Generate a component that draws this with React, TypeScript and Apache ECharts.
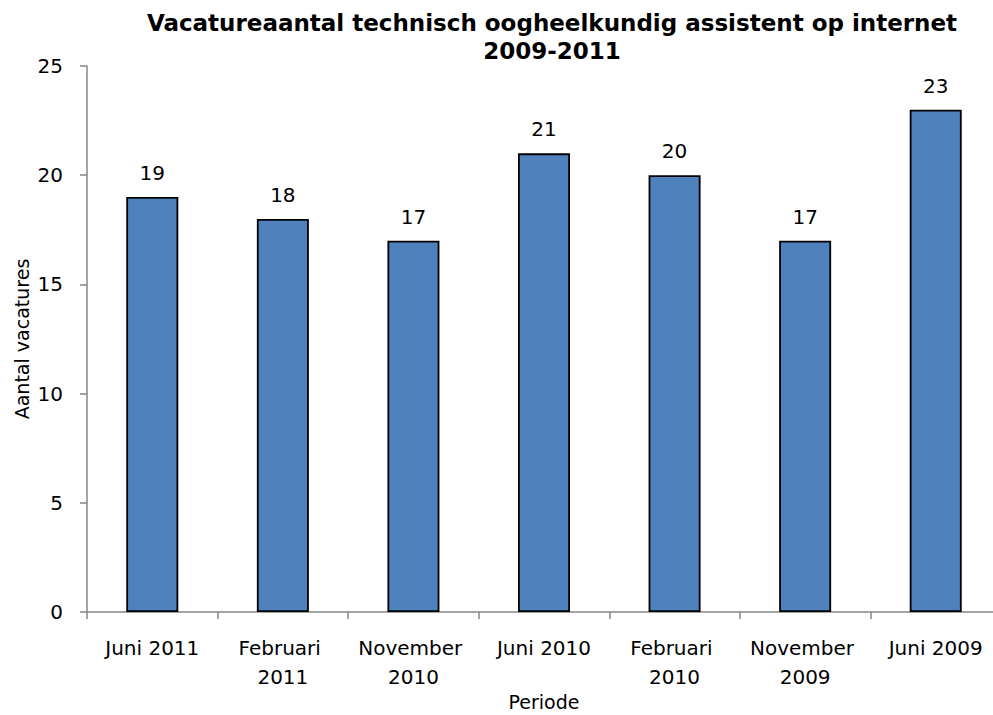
import React, { useEffect, useRef } from "react";
import * as echarts from "echarts";

const categories = [
  "Juni 2011",
  "Februari 2011",
  "November 2010",
  "Juni 2010",
  "Februari 2010",
  "November 2009",
  "Juni 2009",
];
const vacatures = [19, 18, 17, 21, 20, 17, 23];
const titleText = "Vacatureaantal technisch oogheelkundig assistent op internet\n2009-2011";
const yAxisName = "Aantal vacatures";
const xAxisName = "Periode";

const FONT = "DejaVu Sans";
const AXIS_GRAY = "#868686";

export default function App() {
  const ref = useRef<HTMLDivElement>(null);
  useEffect(() => {
    document.body.style.margin = "0";
    document.body.style.overflow = "hidden";
    if (!ref.current) return;
    const chart = echarts.init(ref.current, null, { renderer: "svg" });
    chart.setOption({
      animation: false,
      backgroundColor: "#ffffff",
      textStyle: { fontFamily: FONT },
      title: {
        text: titleText,
        left: 547,
        top: 4,
        textAlign: "center",
        textStyle: {
          fontFamily: FONT,
          fontSize: 23,
          fontWeight: "bold",
          color: "#000",
          lineHeight: 28,
        },
      },
      grid: {
        left: 87,
        top: 66,
        width: 914,
        bottom: 103,
        containLabel: false,
        outerBoundsMode: "none",
      },
      xAxis: {
        type: "category",
        data: categories,
        name: xAxisName,
        nameLocation: "middle",
        nameGap: 79,
        nameMoveOverlap: false,
        nameTextStyle: { fontFamily: FONT, fontSize: 19, color: "#000", lineHeight: 22 },
        axisLine: { show: true, lineStyle: { color: AXIS_GRAY, width: 1.5 } },
        axisTick: { show: true, length: 7, lineStyle: { color: AXIS_GRAY, width: 1.5 } },
        axisLabel: {
          interval: 0,
          margin: 21,
          fontFamily: FONT,
          fontSize: 20,
          color: "#000",
          lineHeight: 29,
          width: 118,
          overflow: "break",
        },
        splitLine: { show: false },
      },
      yAxis: {
        type: "value",
        min: 0,
        max: 25,
        interval: 5,
        name: yAxisName,
        nameLocation: "middle",
        nameGap: 54,
        nameMoveOverlap: false,
        nameTextStyle: { fontFamily: FONT, fontSize: 19, color: "#000", lineHeight: 22 },
        axisLine: { show: true, lineStyle: { color: AXIS_GRAY, width: 1.5 } },
        axisTick: { show: true, length: 7, lineStyle: { color: AXIS_GRAY, width: 1.5 } },
        axisLabel: { margin: 24, fontFamily: FONT, fontSize: 20, color: "#000" },
        splitLine: { show: false },
      },
      series: [
        {
          type: "bar",
          data: vacatures,
          barWidth: 52,
          itemStyle: { color: "#4F81BD", borderColor: "#000", borderWidth: 1.8 },
          label: {
            show: true,
            position: "top",
            distance: 14,
            fontFamily: FONT,
            fontSize: 20,
            color: "#000",
          },
        },
      ],
    });
    return () => chart.dispose();
  }, []);
  return (
    <div
      ref={ref}
      style={{ position: "fixed", left: 0, top: 0, width: 993, height: 715 }}
    />
  );
}
